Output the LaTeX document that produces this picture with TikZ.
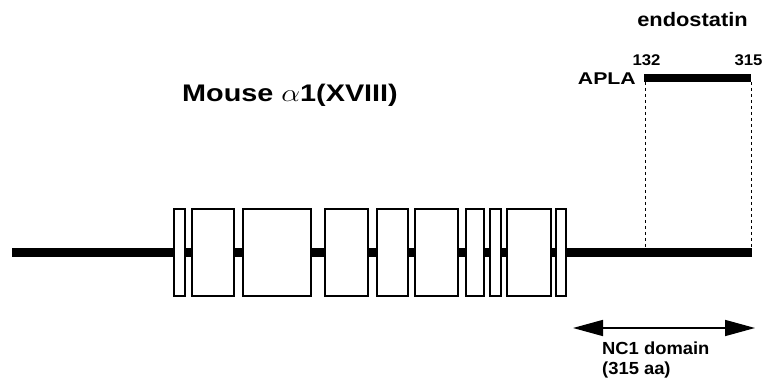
\documentclass[tikz,border=0pt]{standalone}
\usepackage{fontspec}
\setmainfont{Liberation Sans}
\usetikzlibrary{arrows.meta}
\tikzset{exon/.style={draw,fill=white,line width=2.2pt,inner sep=0pt,minimum height=87pt},
 lbl/.style={inner sep=0pt,font=\bfseries}}
\begin{document}
\begin{tikzpicture}[x=1pt,y=-1pt]
 \useasboundingbox (0,0) rectangle (766,387);
 % backbone
 \coordinate (start) at (12,252.5);
 \coordinate (end) at (752,252.5);
 \draw[line width=9pt] (start)--(end);
 % exons
 \node[exon,minimum width=11pt] (e1) at (179.5,252.5) {};
 \node[exon,minimum width=42pt] (e2) at (213,252.5) {};
 \node[exon,minimum width=68pt] (e3) at (277,252.5) {};
 \node[exon,minimum width=43pt] (e4) at (346.5,252.5) {};
 \node[exon,minimum width=31pt] (e5) at (392.5,252.5) {};
 \node[exon,minimum width=43pt] (e6) at (436.5,252.5) {};
 \node[exon,minimum width=18pt] (e7) at (475,252.5) {};
 \node[exon,minimum width=11pt] (e8) at (495.5,252.5) {};
 \node[exon,minimum width=44pt] (e9) at (529,252.5) {};
 \node[exon,minimum width=10pt] (e10) at (561,252.5) {};
 % endostatin
 \coordinate (a132) at (644,78);
 \coordinate (a315) at (751,78);
 \coordinate (b132) at (645,252.5);
 \coordinate (b315) at (751,252.5);
 \draw[line width=8pt] (a132)--(a315);
 \draw[dashed,line width=1pt] ([yshift=-4pt]a132-|b132)--(b132);
 \draw[dashed,line width=1pt] ([yshift=-4pt]a315)--(b315);
 \node[lbl,font=\bfseries\fontsize{15.5}{15.5}\selectfont,anchor=base] (n132) at (646.5,66) {\scalebox{1.08}[1]{132}};
 \node[lbl,font=\bfseries\fontsize{15.5}{15.5}\selectfont,anchor=base] (n315) at (748.5,66) {\scalebox{1.08}[1]{315}};
 \node[lbl,font=\bfseries\fontsize{17}{17}\selectfont,anchor=base east] (apla) at (636,84.5) {\scalebox{1.25}[1]{APLA}};
 \node[lbl,font=\bfseries\fontsize{19.5}{19.5}\selectfont,anchor=base] (endo) at (692.5,27) {\scalebox{1.12}[1]{endostatin}};
 \node[lbl,font=\bfseries\fontsize{24}{24}\selectfont,anchor=base west] (title) at (182,102) {\scalebox{1.2}[1]{Mouse $\alpha$1(XVIII)}};
 % NC1 domain
 \coordinate (nc1l) at (573,328);
 \coordinate (nc1r) at (755,328);
 \draw[line width=1.6pt,{Triangle[length=30pt,width=16pt]}-{Triangle[length=30pt,width=16pt]}] (nc1l)--(nc1r);
 \node[lbl,font=\bfseries\fontsize{17.5}{17.5}\selectfont,anchor=base west] (nc1) at (602,355) {\scalebox{1.05}[1]{NC1 domain}};
 \node[lbl,font=\bfseries\fontsize{17.5}{17.5}\selectfont,anchor=base west] (aa) at (602,374.5) {\scalebox{1.05}[1]{(315 aa)}};
\end{tikzpicture}
\end{document}
